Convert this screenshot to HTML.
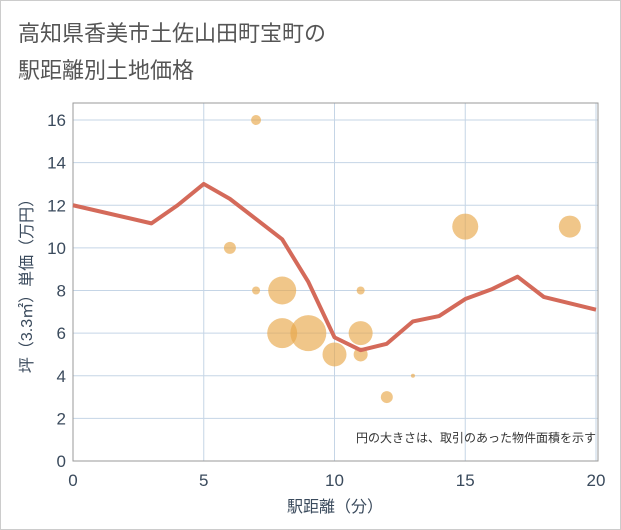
<!DOCTYPE html>
<html><head><meta charset="utf-8"><style>
body{margin:0;background:#fff;}
svg{display:block;font-family:"Liberation Sans","Noto Sans CJK JP",sans-serif;}
</style></head><body>
<svg width="621" height="530">
<rect x="0.5" y="0.5" width="620" height="529" fill="#fff" stroke="#ccc"/>
<text x="18" y="41" font-size="22" fill="#555">高知県香美市土佐山田町宝町の</text>
<text x="18" y="78" font-size="22" fill="#555">駅距離別土地価格</text>
<g id="grid"></g>
<rect x="73" y="103" width="525" height="358" fill="none" stroke="#999"/>
<g id="bubbles"></g>
<g id="line"></g>
<g id="ticks"></g>
<text x="596" y="442" font-size="12" fill="#333" text-anchor="end">円の大きさは、取引のあった物件面積を示す</text>
<text x="335" y="512" font-size="16" fill="#3a4a5c" text-anchor="middle">駅距離（分）</text>
<text transform="translate(32,282) rotate(-90)" font-size="16" fill="#3a4a5c" text-anchor="middle">坪（3.3㎡）単価（万円）</text>
</svg>
<script>
const xTicks=[0,5,10,15,20];
const yTicks=[0,2,4,6,8,10,12,14,16];
const lineX=[0,3,4,5,6,7,8,9,10,11,12,13,14,15,16,17,18,19,20];
const lineY=[12,11.15,12,13,12.3,11.35,10.4,8.4,5.8,5.2,5.5,6.55,6.8,7.6,8.05,8.65,7.7,7.4,7.1];
const bubX=[7,6,7,8,8,9,10,11,11,11,12,13,15,19];
const bubY=[16,10,8,8,6,6,5,6,5,8,3,4,11,11];
const bubR=[5,6,4,14,15,18,12,12,7,4,6,2,13,11];
const NS="http://www.w3.org/2000/svg";
const sx=v=>73+v*(523/20), sy=v=>461-v*(341/16);
function mk(t,a,p){const e=document.createElementNS(NS,t);for(const k in a)e.setAttribute(k,a[k]);document.getElementById(p).appendChild(e);return e;}
xTicks.forEach(v=>{
 const l=mk('line',{x1:sx(v),x2:sx(v),y1:103,y2:461,stroke:'#c5d5e6'},'grid');
 
 
 const t=mk('text',{x:sx(v),y:486,'font-size':17,fill:'#3a4a5c','text-anchor':'middle'},'ticks');
 t.textContent=v;
 
 
});
yTicks.forEach(v=>{
 const l=mk('line',{x1:73,x2:598,y1:sy(v),y2:sy(v),stroke:'#c5d5e6'},'grid');
 
 
 const t=mk('text',{x:66,y:sy(v)+6,'font-size':17,fill:'#3a4a5c','text-anchor':'end'},'ticks');
 t.textContent=v;
 
 
});
bubX.forEach((x,i)=>{
 const c=mk('circle',{cx:sx(x),cy:sy(bubY[i]),r:bubR[i],fill:'#e8a84a','fill-opacity':0.65},'bubbles');
 
 
});
const p=mk('polyline',{points:lineX.map((x,i)=>sx(x)+','+sy(lineY[i])).join(' '),fill:'none',stroke:'#d46a5a','stroke-width':4,'stroke-linejoin':'round'},'line');


</script>
</body></html>
